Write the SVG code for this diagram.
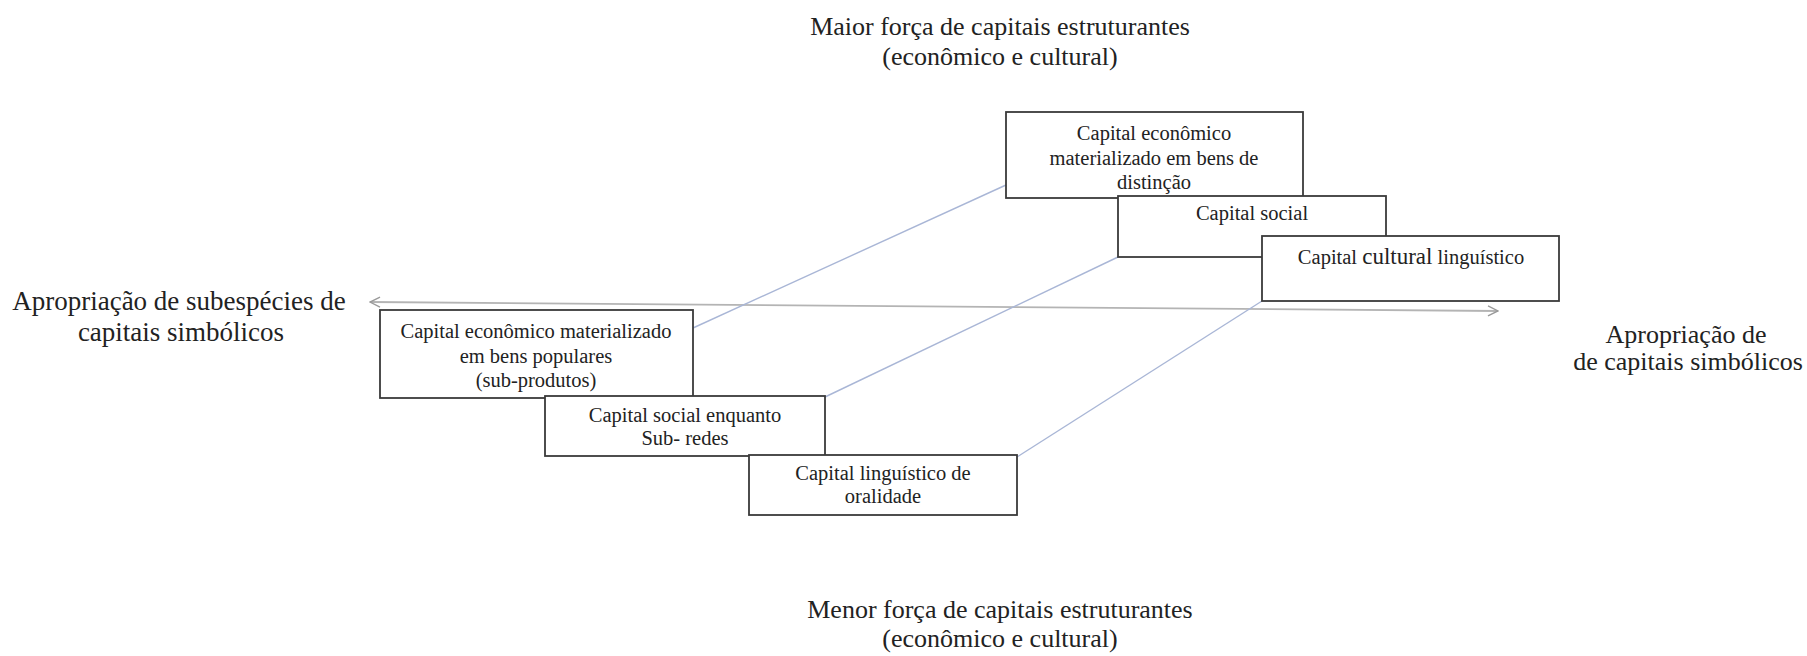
<svg xmlns="http://www.w3.org/2000/svg" width="1807" height="656" viewBox="0 0 1807 656">
  <defs>
    <style>
      .box { fill: #ffffff; stroke: #3a3a3a; stroke-width: 1.8; }
      .bt { font-family: "Liberation Serif", "Times New Roman", serif; font-size: 20.5px; fill: #222222; text-anchor: middle; }
      .big { font-family: "Liberation Serif", "Times New Roman", serif; font-size: 26px; fill: #222222; text-anchor: middle; }
      .side { font-family: "Liberation Serif", "Times New Roman", serif; font-size: 27px; fill: #222222; text-anchor: middle; }
      .link { stroke: #a9b6d6; stroke-width: 1.4; fill: none; }
      .axis { stroke: #b4b4b4; stroke-width: 1.8; fill: none; }
    </style>
    <marker id="chevron" viewBox="0 0 12 12" refX="11" refY="6" markerWidth="12" markerHeight="12" markerUnits="userSpaceOnUse" orient="auto-start-reverse">
      <path d="M1,1 L11,6 L1,11" fill="none" stroke="#9a9a9a" stroke-width="1.4"/>
    </marker>
  </defs>

  <rect width="1807" height="656" fill="#ffffff"/>

  <!-- axis and diagonal links -->
  <g id="connectors">
    <line class="axis" x1="370" y1="302" x2="1498" y2="311" marker-start="url(#chevron)" marker-end="url(#chevron)"/>
    <line class="link" x1="693" y1="328" x2="1006" y2="185"/>
    <line class="link" x1="825" y1="397" x2="1118" y2="257"/>
    <line class="link" x1="1017" y1="457" x2="1262" y2="301"/>
  </g>

  <!-- axis labels -->
  <g id="label-top">
    <text class="big" x="1000" y="35">Maior força de capitais estruturantes</text>
    <text class="big" x="1000" y="65">(econômico e cultural)</text>
  </g>
  <g id="label-bottom">
    <text class="big" x="1000" y="618">Menor força de capitais estruturantes</text>
    <text class="big" x="1000" y="647">(econômico e cultural)</text>
  </g>
  <g id="label-left">
    <text class="side" x="179" y="310">Apropriação de subespécies de</text>
    <text class="side" x="181" y="341">capitais simbólicos</text>
  </g>
  <g id="label-right">
    <text class="big" x="1686" y="343">Apropriação de</text>
    <text class="big" x="1688" y="370">de capitais simbólicos</text>
  </g>

  <!-- upper stack -->
  <g id="node-economico-distincao">
    <rect class="box" x="1006" y="112" width="297" height="86"/>
    <text class="bt" x="1154" y="140">Capital econômico</text>
    <text class="bt" x="1154" y="165">materializado em bens de</text>
    <text class="bt" x="1154" y="189">distinção</text>
  </g>
  <g id="node-social">
    <rect class="box" x="1118" y="196" width="268" height="61"/>
    <text class="bt" x="1252" y="220">Capital social</text>
  </g>
  <g id="node-cultural-linguistico">
    <rect class="box" x="1262" y="236" width="297" height="65"/>
    <text class="bt" x="1411" y="264">Capital <tspan font-size="23px">cultural</tspan> linguístico</text>
  </g>

  <!-- lower stack -->
  <g id="node-economico-populares">
    <rect class="box" x="380" y="310" width="313" height="88"/>
    <text class="bt" x="536" y="338">Capital econômico materializado</text>
    <text class="bt" x="536" y="363">em bens populares</text>
    <text class="bt" x="536" y="387">(sub-produtos)</text>
  </g>
  <g id="node-sub-redes">
    <rect class="box" x="545" y="396" width="280" height="60"/>
    <text class="bt" x="685" y="422">Capital social enquanto</text>
    <text class="bt" x="685" y="445">Sub- redes</text>
  </g>
  <g id="node-oralidade">
    <rect class="box" x="749" y="455" width="268" height="60"/>
    <text class="bt" x="883" y="480">Capital linguístico de</text>
    <text class="bt" x="883" y="503">oralidade</text>
  </g>
</svg>
